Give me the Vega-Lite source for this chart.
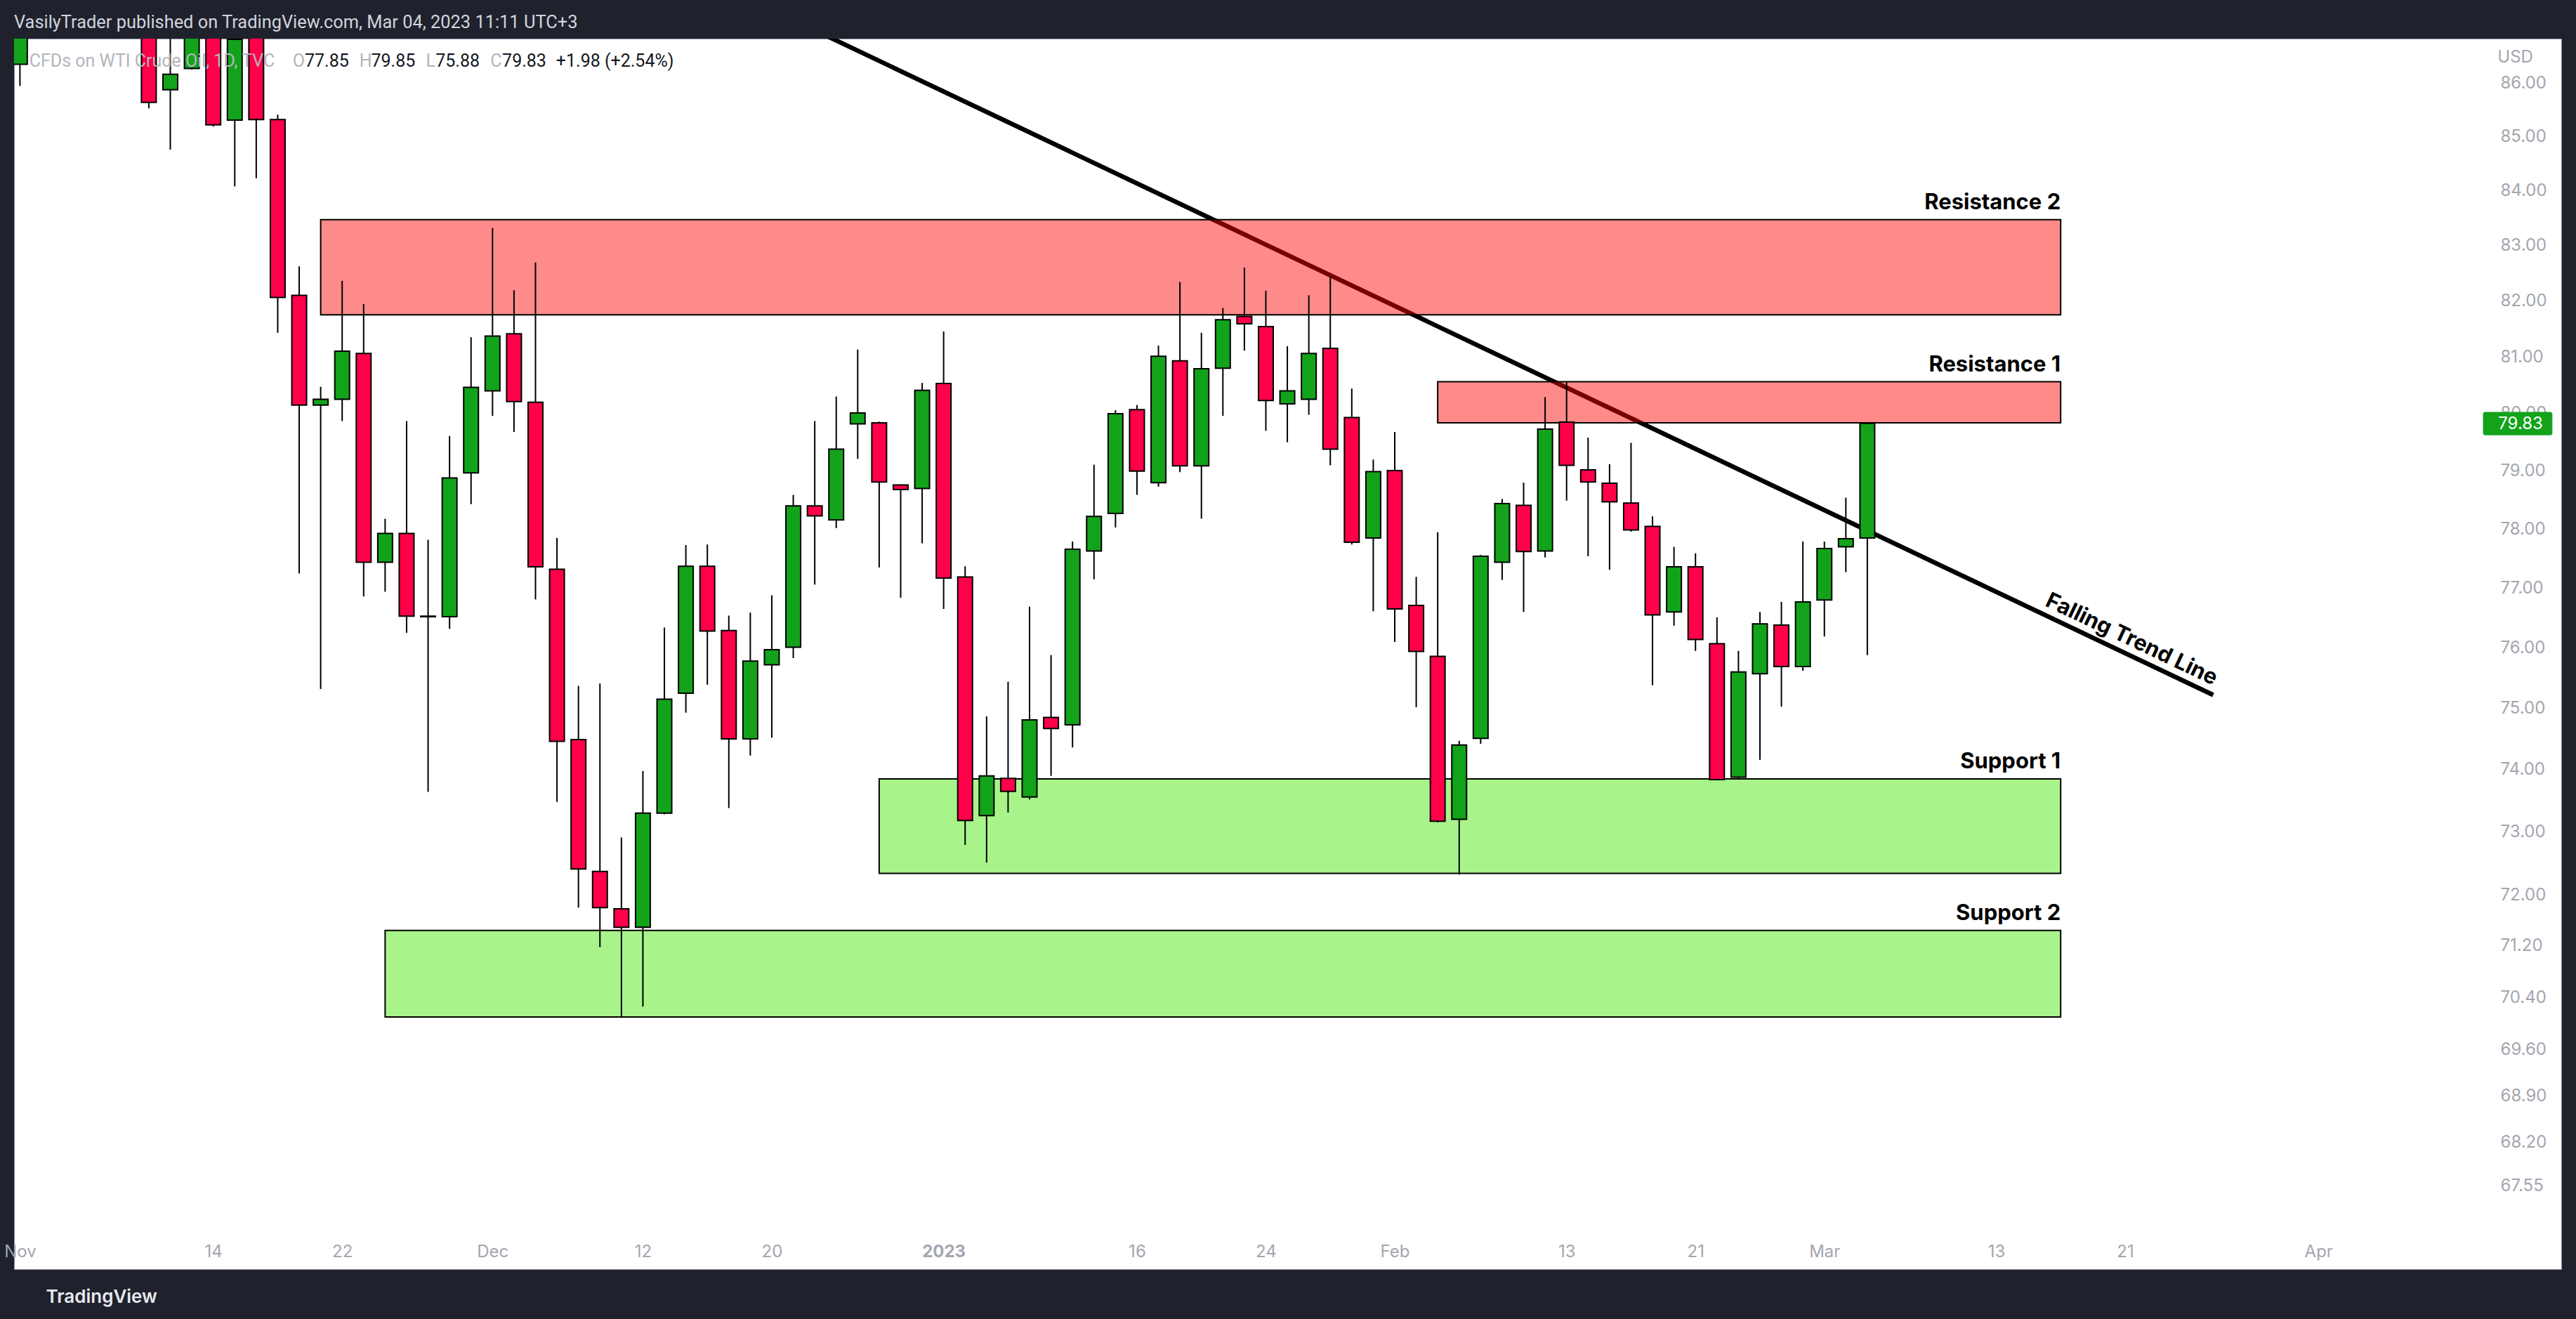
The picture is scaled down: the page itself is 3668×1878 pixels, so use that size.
{
  "$schema": "https://vega.github.io/schema/vega-lite/v6.json",
  "width": 3627,
  "height": 1752,
  "autosize": {"type": "none"},
  "padding": {"left": 20, "right": 21, "top": 55, "bottom": 71},
  "background": "#1f222d",
  "title": {
    "text": "VasilyTrader published on TradingView.com, Mar 04, 2023 11:11 UTC+3",
    "anchor": "start", "frame": "group", "orient": "top",
    "font": "Roboto", "fontSize": 25.4, "fontWeight": "normal", "color": "#d1d4dc",
    "offset": 10
  },
  "config": {
    "view": {"fill": "#ffffff", "stroke": "#8a8e99", "strokeWidth": 1},
    "font": "Inter"
  },
  "datasets": {
    "candles": [
      {"i":0,"date":"2022-11-01","o":86.36,"h":88.70,"l":85.95,"c":88.37},
      {"i":1,"date":"2022-11-02","o":88.40,"h":90.20,"l":87.90,"c":90.00},
      {"i":2,"date":"2022-11-03","o":90.00,"h":90.30,"l":87.50,"c":88.20},
      {"i":3,"date":"2022-11-04","o":88.30,"h":92.80,"l":88.00,"c":92.60},
      {"i":4,"date":"2022-11-07","o":92.50,"h":93.70,"l":91.20,"c":91.80},
      {"i":5,"date":"2022-11-08","o":91.70,"h":92.20,"l":88.00,"c":88.90},
      {"i":6,"date":"2022-11-09","o":88.90,"h":89.10,"l":85.53,"c":85.64},
      {"i":7,"date":"2022-11-10","o":85.88,"h":87.30,"l":84.76,"c":86.17},
      {"i":8,"date":"2022-11-11","o":86.28,"h":89.10,"l":86.26,"c":88.90},
      {"i":9,"date":"2022-11-14","o":88.90,"h":89.00,"l":85.19,"c":85.22},
      {"i":10,"date":"2022-11-15","o":85.31,"h":87.20,"l":84.08,"c":86.83},
      {"i":11,"date":"2022-11-16","o":86.95,"h":87.10,"l":84.23,"c":85.32},
      {"i":12,"date":"2022-11-17","o":85.32,"h":85.41,"l":81.43,"c":82.06},
      {"i":13,"date":"2022-11-18","o":82.10,"h":82.62,"l":77.25,"c":80.15},
      {"i":14,"date":"2022-11-21","o":80.15,"h":80.47,"l":75.32,"c":80.25},
      {"i":15,"date":"2022-11-22","o":80.25,"h":82.36,"l":79.87,"c":81.10},
      {"i":16,"date":"2022-11-23","o":81.06,"h":81.94,"l":76.86,"c":77.44},
      {"i":17,"date":"2022-11-24","o":77.44,"h":78.18,"l":76.94,"c":77.93},
      {"i":18,"date":"2022-11-25","o":77.93,"h":79.87,"l":76.25,"c":76.53},
      {"i":19,"date":"2022-11-28","o":76.53,"h":77.82,"l":73.64,"c":76.52},
      {"i":20,"date":"2022-11-29","o":76.52,"h":79.61,"l":76.32,"c":78.88},
      {"i":21,"date":"2022-11-30","o":78.97,"h":81.35,"l":78.43,"c":80.46},
      {"i":22,"date":"2022-12-01","o":80.40,"h":83.32,"l":79.96,"c":81.37},
      {"i":23,"date":"2022-12-02","o":81.41,"h":82.19,"l":79.68,"c":80.21},
      {"i":24,"date":"2022-12-05","o":80.20,"h":82.69,"l":76.81,"c":77.36},
      {"i":25,"date":"2022-12-06","o":77.32,"h":77.85,"l":73.48,"c":74.46},
      {"i":26,"date":"2022-12-07","o":74.49,"h":75.37,"l":71.80,"c":72.41},
      {"i":27,"date":"2022-12-08","o":72.37,"h":75.41,"l":71.18,"c":71.80},
      {"i":28,"date":"2022-12-09","o":71.78,"h":72.91,"l":70.10,"c":71.49},
      {"i":29,"date":"2022-12-12","o":71.49,"h":73.98,"l":70.26,"c":73.30},
      {"i":30,"date":"2022-12-13","o":73.30,"h":76.34,"l":73.28,"c":75.15},
      {"i":31,"date":"2022-12-14","o":75.25,"h":77.73,"l":74.93,"c":77.37},
      {"i":32,"date":"2022-12-15","o":77.37,"h":77.74,"l":75.39,"c":76.28},
      {"i":33,"date":"2022-12-16","o":76.29,"h":76.54,"l":73.38,"c":74.50},
      {"i":34,"date":"2022-12-19","o":74.50,"h":76.59,"l":74.23,"c":75.78},
      {"i":35,"date":"2022-12-20","o":75.72,"h":76.88,"l":74.52,"c":75.97},
      {"i":36,"date":"2022-12-21","o":76.01,"h":78.59,"l":75.83,"c":78.40},
      {"i":37,"date":"2022-12-22","o":78.40,"h":79.87,"l":77.06,"c":78.23},
      {"i":38,"date":"2022-12-23","o":78.16,"h":80.30,"l":78.02,"c":79.38},
      {"i":39,"date":"2022-12-27","o":79.82,"h":81.13,"l":79.21,"c":80.01},
      {"i":40,"date":"2022-12-28","o":79.84,"h":79.86,"l":77.35,"c":78.81},
      {"i":41,"date":"2022-12-29","o":78.76,"h":78.77,"l":76.84,"c":78.68},
      {"i":42,"date":"2022-12-30","o":78.70,"h":80.54,"l":77.76,"c":80.41},
      {"i":43,"date":"2023-01-03","o":80.53,"h":81.45,"l":76.65,"c":77.17},
      {"i":44,"date":"2023-01-04","o":77.19,"h":77.37,"l":72.79,"c":73.18},
      {"i":45,"date":"2023-01-05","o":73.26,"h":74.87,"l":72.51,"c":73.90},
      {"i":46,"date":"2023-01-06","o":73.86,"h":75.44,"l":73.31,"c":73.65},
      {"i":47,"date":"2023-01-09","o":73.56,"h":76.69,"l":73.52,"c":74.81},
      {"i":48,"date":"2023-01-10","o":74.85,"h":75.88,"l":73.90,"c":74.67},
      {"i":49,"date":"2023-01-11","o":74.73,"h":77.79,"l":74.36,"c":77.66},
      {"i":50,"date":"2023-01-12","o":77.63,"h":79.11,"l":77.15,"c":78.22},
      {"i":51,"date":"2023-01-13","o":78.27,"h":80.06,"l":78.03,"c":80.00},
      {"i":52,"date":"2023-01-16","o":80.07,"h":80.15,"l":78.59,"c":79.00},
      {"i":53,"date":"2023-01-17","o":78.80,"h":81.20,"l":78.73,"c":81.01},
      {"i":54,"date":"2023-01-18","o":80.93,"h":82.34,"l":78.98,"c":79.09},
      {"i":55,"date":"2023-01-19","o":79.09,"h":81.43,"l":78.18,"c":80.79},
      {"i":56,"date":"2023-01-20","o":80.80,"h":81.87,"l":79.96,"c":81.66},
      {"i":57,"date":"2023-01-23","o":81.72,"h":82.60,"l":81.11,"c":81.59},
      {"i":58,"date":"2023-01-24","o":81.54,"h":82.18,"l":79.70,"c":80.23},
      {"i":59,"date":"2023-01-25","o":80.17,"h":81.19,"l":79.50,"c":80.40},
      {"i":60,"date":"2023-01-26","o":80.25,"h":82.10,"l":79.98,"c":81.06},
      {"i":61,"date":"2023-01-27","o":81.15,"h":82.43,"l":79.10,"c":79.38},
      {"i":62,"date":"2023-01-30","o":79.93,"h":80.44,"l":77.74,"c":77.78},
      {"i":63,"date":"2023-01-31","o":77.85,"h":79.20,"l":76.61,"c":78.99},
      {"i":64,"date":"2023-02-01","o":79.01,"h":79.68,"l":76.10,"c":76.65},
      {"i":65,"date":"2023-02-02","o":76.71,"h":77.19,"l":75.02,"c":75.94},
      {"i":66,"date":"2023-02-03","o":75.86,"h":77.95,"l":73.15,"c":73.17},
      {"i":67,"date":"2023-02-06","o":73.20,"h":74.47,"l":72.32,"c":74.40},
      {"i":68,"date":"2023-02-07","o":74.51,"h":77.56,"l":74.42,"c":77.54},
      {"i":69,"date":"2023-02-08","o":77.44,"h":78.52,"l":77.14,"c":78.44},
      {"i":70,"date":"2023-02-09","o":78.41,"h":78.80,"l":76.60,"c":77.62},
      {"i":71,"date":"2023-02-10","o":77.63,"h":80.29,"l":77.52,"c":79.73},
      {"i":72,"date":"2023-02-13","o":79.85,"h":80.55,"l":78.49,"c":79.10},
      {"i":73,"date":"2023-02-14","o":79.02,"h":79.58,"l":77.54,"c":78.81},
      {"i":74,"date":"2023-02-15","o":78.79,"h":79.12,"l":77.31,"c":78.47},
      {"i":75,"date":"2023-02-16","o":78.45,"h":79.49,"l":77.96,"c":77.99},
      {"i":76,"date":"2023-02-17","o":78.05,"h":78.22,"l":75.38,"c":76.55},
      {"i":77,"date":"2023-02-20","o":76.60,"h":77.70,"l":76.37,"c":77.36},
      {"i":78,"date":"2023-02-21","o":77.36,"h":77.59,"l":75.95,"c":76.14},
      {"i":79,"date":"2023-02-22","o":76.07,"h":76.51,"l":73.83,"c":73.84},
      {"i":80,"date":"2023-02-23","o":73.88,"h":75.95,"l":73.86,"c":75.60},
      {"i":81,"date":"2023-02-24","o":75.57,"h":76.60,"l":74.16,"c":76.40},
      {"i":82,"date":"2023-02-27","o":76.38,"h":76.77,"l":75.03,"c":75.69},
      {"i":83,"date":"2023-02-28","o":75.69,"h":77.79,"l":75.62,"c":76.77},
      {"i":84,"date":"2023-03-01","o":76.80,"h":77.79,"l":76.19,"c":77.67},
      {"i":85,"date":"2023-03-02","o":77.70,"h":78.54,"l":77.27,"c":77.84},
      {"i":86,"date":"2023-03-03","o":77.85,"h":79.85,"l":75.88,"c":79.83}
    ],
    "zones": [
      {"name":"Resistance 2","kind":"res","x1":14,"x2":95,"lo":81.75,"hi":83.47},
      {"name":"Resistance 1","kind":"res","x1":66,"x2":95,"lo":79.84,"hi":80.56},
      {"name":"Support 1","kind":"sup","x1":40,"x2":95,"lo":72.34,"hi":73.85},
      {"name":"Support 2","kind":"sup","x1":17,"x2":95,"lo":70.10,"hi":71.44}
    ],
    "trend": [
      {"i":35.1,"p":87.375},
      {"i":102.1,"p":75.22}
    ]
  },
  "layer": [
    {
      "data": {"name": "trend"},
      "mark": {"type": "line", "color": "#000000", "strokeWidth": 6.5, "clip": true, "strokeCap": "butt"},
      "encoding": {
        "x": {"field": "i", "type": "quantitative",
          "scale": {"domain": [-0.1109, 118.14], "nice": false, "zero": false},
          "axis": {
            "orient": "bottom", "offset": -35, "labelPadding": 10.7, "labelBaseline": "middle",
            "values": [0, 9, 15, 22, 29, 35, 43, 52, 58, 64, 72, 78, 84, 92, 98, 107],
            "labelExpr": "datum.value==0?'Nov':datum.value==9?'14':datum.value==15?'22':datum.value==22?'Dec':datum.value==29?'12':datum.value==35?'20':datum.value==43?'2023':datum.value==52?'16':datum.value==58?'24':datum.value==64?'Feb':datum.value==72?'13':datum.value==78?'21':datum.value==84?'Mar':datum.value==92?'13':datum.value==98?'21':'Apr'",
            "ticks": false, "domain": false, "grid": false,
            "labelFont": "Inter", "labelFontSize": 24, "labelColor": "#a3a6af",
            "labelFontWeight": {"condition": {"test": "datum.value == 43", "value": "bold"}, "value": "normal"},
            "labelFlush": false, "labelOverlap": false, "labelBound": false,
            "title": "TradingView", "titleX": 45, "titleY": 82.5, "titleAlign": "left", "titleBaseline": "alphabetic",
            "titleFont": "Inter", "titleFontSize": 26, "titleFontWeight": 600, "titleColor": "#e8e9ee"
          }
        },
        "y": {"field": "p", "type": "quantitative",
          "scale": {"type": "log", "domain": [66.335, 86.845], "nice": false, "zero": false},
          "axis": {
            "orient": "right", "offset": -97, "labelPadding": 10, "labelAlign": "left", "labelBaseline": "middle",
            "values": [86, 85, 84, 83, 82, 81, 80, 79, 78, 77, 76, 75, 74, 73, 72, 71.2, 70.4, 69.6, 68.9, 68.2, 67.55],
            "format": ".2f", "ticks": false, "domain": false, "grid": false,
            "labelFont": "Inter", "labelFontSize": 24, "labelColor": "#a3a6af",
            "labelOverlap": false, "labelBound": false, "labelFlush": false,
            "title": null
          }
        }
      }
    },
    {
      "data": {"name": "zones"},
      "mark": {"type": "rect", "stroke": "#000000", "strokeWidth": 2},
      "encoding": {
        "x": {"field": "x1", "type": "quantitative", "scale": {"domain": [-0.1109, 118.14], "nice": false, "zero": false}},
        "x2": {"field": "x2"},
        "y": {"field": "lo", "type": "quantitative", "scale": {"type": "log", "domain": [66.335, 86.845], "nice": false, "zero": false}},
        "y2": {"field": "hi"},
        "fill": {"condition": {"test": "datum.kind == 'res'", "value": "rgba(255,0,0,0.46)"}, "value": "#a8f48a"}
      }
    },
    {
      "data": {"name": "zones"},
      "mark": {"type": "text", "align": "right", "baseline": "alphabetic", "dy": -15, "font": "Inter", "fontSize": 31, "fontWeight": "bold", "color": "#000000"},
      "encoding": {
        "x": {"field": "x2", "type": "quantitative", "scale": {"domain": [-0.1109, 118.14], "nice": false, "zero": false}},
        "y": {"field": "hi", "type": "quantitative", "scale": {"type": "log", "domain": [66.335, 86.845], "nice": false, "zero": false}},
        "text": {"field": "name"}
      }
    },
    {
      "data": {"name": "candles"},
      "mark": {"type": "rule", "color": "#000000", "strokeWidth": 2, "clip": true},
      "encoding": {
        "x": {"field": "i", "type": "quantitative", "scale": {"domain": [-0.1109, 118.14], "nice": false, "zero": false}},
        "y": {"field": "l", "type": "quantitative", "scale": {"type": "log", "domain": [66.335, 86.845], "nice": false, "zero": false}},
        "y2": {"field": "h"}
      }
    },
    {
      "data": {"name": "candles"},
      "mark": {"type": "bar", "width": 21, "stroke": "#000000", "strokeWidth": 2, "clip": true, "orient": "vertical"},
      "encoding": {
        "x": {"field": "i", "type": "quantitative", "scale": {"domain": [-0.1109, 118.14], "nice": false, "zero": false}},
        "y": {"field": "o", "type": "quantitative", "scale": {"type": "log", "domain": [66.335, 86.845], "nice": false, "zero": false}},
        "y2": {"field": "c"},
        "fill": {"condition": {"test": "datum.c >= datum.o", "value": "#12a31b"}, "value": "#ff0049"}
      }
    },
    {
      "data": {"values": [{}]},
      "mark": {"type": "text", "angle": 25.36, "align": "center", "baseline": "middle", "dy": -21, "font": "Inter", "fontSize": 31, "fontWeight": "bold", "color": "#000000"},
      "encoding": {
        "x": {"datum": 98.0, "type": "quantitative", "scale": {"domain": [-0.1109, 118.14], "nice": false, "zero": false}},
        "y": {"datum": 75.915, "type": "quantitative", "scale": {"type": "log", "domain": [66.335, 86.845], "nice": false, "zero": false}},
        "text": {"value": "Falling Trend Line"}
      }
    },
    {
      "data": {"values": [
        {"t": "CFDs on WTI Crude Oil, 1D, TVC", "k": "label", "xi": 0.434},
        {"t": "O", "k": "label", "xi": 12.70},
        {"t": "77.85", "k": "value", "xi": 13.26},
        {"t": "H", "k": "label", "xi": 15.80},
        {"t": "79.85", "k": "value", "xi": 16.35},
        {"t": "L", "k": "label", "xi": 18.90},
        {"t": "75.88", "k": "value", "xi": 19.35},
        {"t": "C", "k": "label", "xi": 21.90},
        {"t": "79.83", "k": "value", "xi": 22.45},
        {"t": "+1.98 (+2.54%)", "k": "value", "xi": 24.96}
      ]},
      "mark": {"type": "text", "align": "left", "baseline": "alphabetic", "font": "Roboto", "fontSize": 25},
      "encoding": {
        "x": {"field": "xi", "type": "quantitative", "scale": {"domain": [-0.1109, 118.14], "nice": false, "zero": false}},
        "y": {"datum": 86.317, "type": "quantitative", "scale": {"type": "log", "domain": [66.335, 86.845], "nice": false, "zero": false}},
        "text": {"field": "t"},
        "color": {"condition": {"test": "datum.k == 'label'", "value": "#b2b5be"}, "value": "#131722"}
      }
    },
    {
      "data": {"values": [{}]},
      "mark": {"type": "text", "align": "left", "baseline": "alphabetic", "font": "Inter", "fontSize": 24, "color": "#a3a6af"},
      "encoding": {
        "x": {"datum": 115.34, "type": "quantitative", "scale": {"domain": [-0.1109, 118.14], "nice": false, "zero": false}},
        "y": {"datum": 86.39, "type": "quantitative", "scale": {"type": "log", "domain": [66.335, 86.845], "nice": false, "zero": false}},
        "text": {"value": "USD"}
      }
    },
    {
      "data": {"values": [{}]},
      "mark": {"type": "rect", "color": "#12a31b", "cornerRadius": 3},
      "encoding": {
        "x": {"datum": 114.66, "type": "quantitative", "scale": {"domain": [-0.1109, 118.14], "nice": false, "zero": false}},
        "x2": {"datum": 117.89},
        "y": {"datum": 80.03, "type": "quantitative", "scale": {"type": "log", "domain": [66.335, 86.845], "nice": false, "zero": false}},
        "y2": {"datum": 79.62}
      }
    },
    {
      "data": {"values": [{}]},
      "mark": {"type": "text", "align": "left", "baseline": "alphabetic", "font": "Inter", "fontSize": 24, "color": "#ffffff"},
      "encoding": {
        "x": {"datum": 115.37, "type": "quantitative", "scale": {"domain": [-0.1109, 118.14], "nice": false, "zero": false}},
        "y": {"datum": 79.73, "type": "quantitative", "scale": {"type": "log", "domain": [66.335, 86.845], "nice": false, "zero": false}},
        "text": {"value": "79.83"}
      }
    }
  ]
}
